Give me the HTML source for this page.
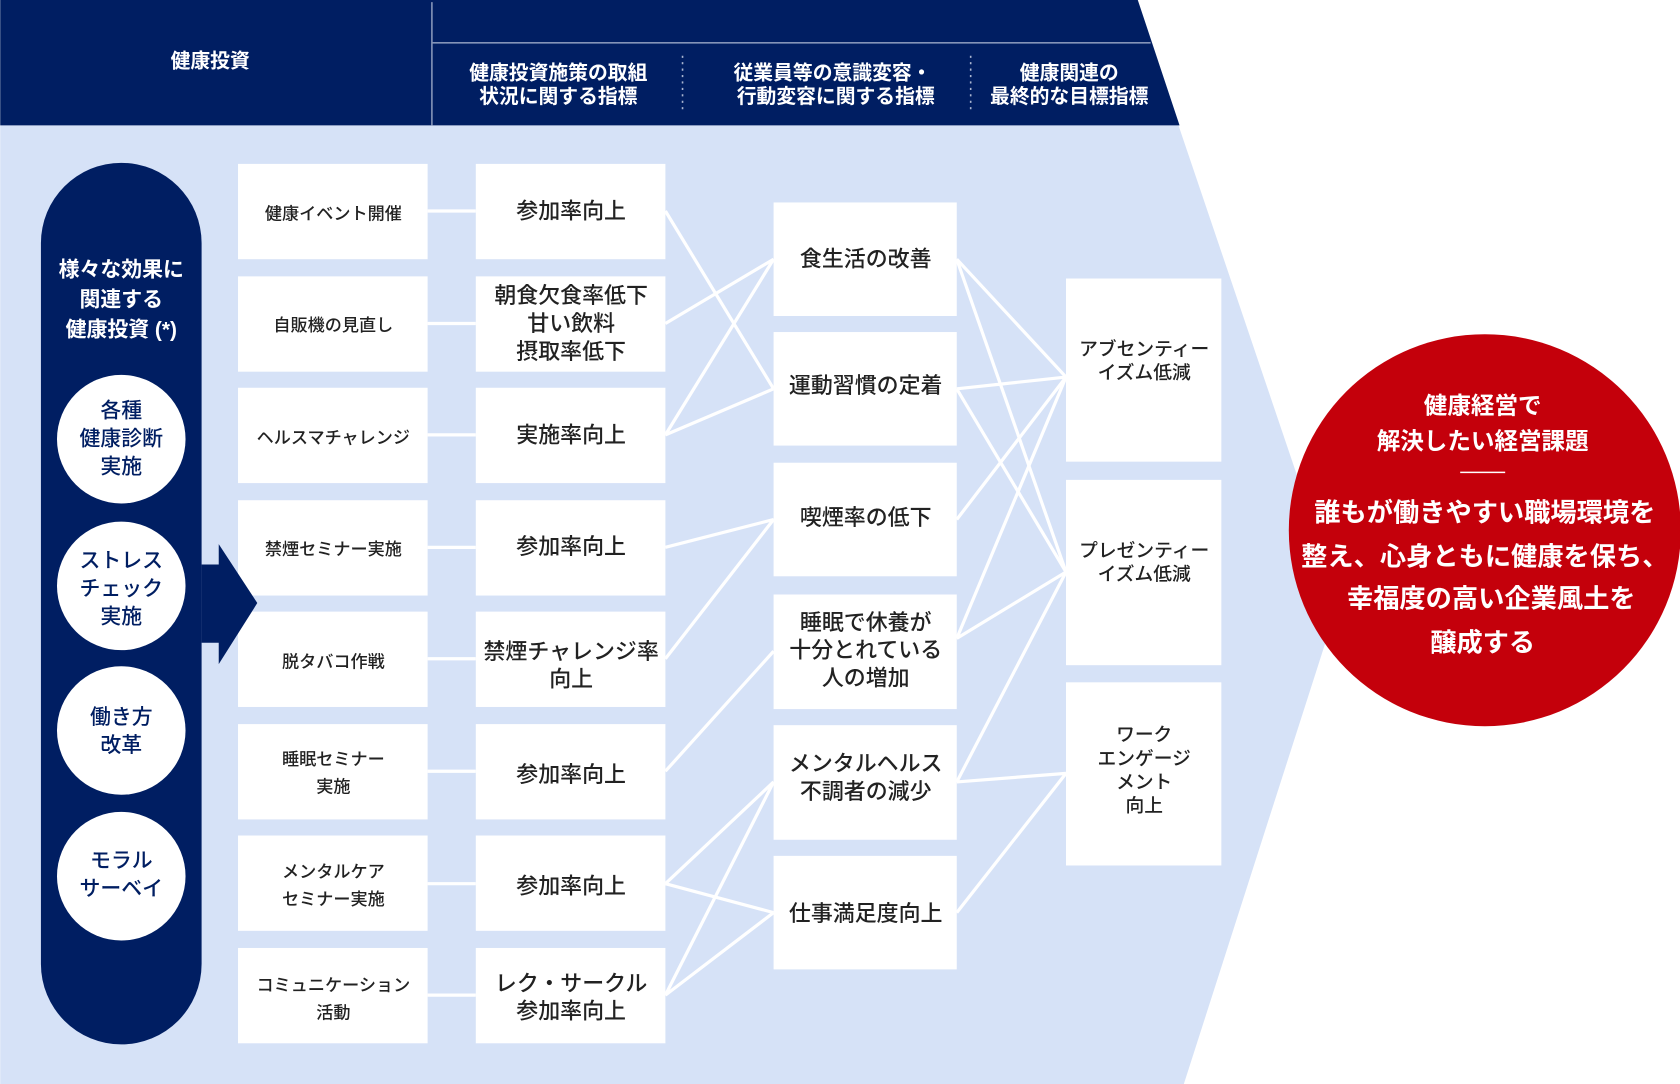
<!DOCTYPE html>
<html><head><meta charset="utf-8"><style>
html,body{margin:0;padding:0;background:#fff;}
svg{display:block}
text{font-family:"Liberation Sans","Noto Sans CJK JP",sans-serif;}
</style></head><body>
<svg width="1680" height="1084" viewBox="0 0 1568 1012" xmlns="http://www.w3.org/2000/svg">
<polygon points="0,117 1100,117 1250,560 1105,1012 0,1012" fill="#d6e2f7"/>
<polygon points="0,0 1062,0 1101,117 0,117" fill="#001e62"/>
<line x1="403" y1="2" x2="403" y2="117" stroke="#8494b8" stroke-width="1.5"/>
<line x1="403" y1="40" x2="1074" y2="40" stroke="#8494b8" stroke-width="1.5"/>
<line x1="637" y1="52" x2="637" y2="105" stroke="#aab5d0" stroke-width="1.5" stroke-dasharray="2,4"/>
<line x1="906" y1="52" x2="906" y2="105" stroke="#aab5d0" stroke-width="1.5" stroke-dasharray="2,4"/>
<g fill="#fff" font-size="18.5" font-weight="bold" text-anchor="middle">
<text x="196" y="63">健康投資</text>
<text x="521" y="74">健康投資施策の取組</text><text x="521" y="96">状況に関する指標</text>
<text x="777" y="74">従業員等の意識変容・</text><text x="780" y="96">行動変容に関する指標</text>
<text x="998" y="74">健康関連の</text><text x="998" y="96">最終的な目標指標</text>
</g>
<rect x="38" y="152" width="150" height="823" rx="75" fill="#001e62"/>
<g fill="#fff" font-size="19.5" font-weight="bold" text-anchor="middle">
<text x="113" y="258">様々な効果に</text><text x="113" y="286">関連する</text><text x="113" y="314">健康投資 (*)</text>
</g>
<g fill="#fff"><circle cx="113" cy="410" r="60"/><circle cx="113" cy="547" r="60"/><circle cx="113" cy="682" r="60"/><circle cx="113" cy="818" r="60"/></g>
<g fill="#001e62" font-size="19.5" font-weight="500" text-anchor="middle">
<text x="113" y="390">各種</text><text x="113" y="416">健康診断</text><text x="113" y="442">実施</text>
<text x="113" y="530">ストレス</text><text x="113" y="556">チェック</text><text x="113" y="582">実施</text>
<text x="113" y="676">働き方</text><text x="113" y="702">改革</text>
<text x="113" y="810">モラル</text><text x="113" y="836">サーベイ</text>
</g>
<g stroke="#fff" stroke-width="3">
<line x1="399" y1="197" x2="444" y2="197"/><line x1="399" y1="302" x2="444" y2="302"/><line x1="399" y1="406" x2="444" y2="406"/><line x1="399" y1="511" x2="444" y2="511"/><line x1="399" y1="615" x2="444" y2="615"/><line x1="399" y1="720" x2="444" y2="720"/><line x1="399" y1="825" x2="444" y2="825"/><line x1="399" y1="929" x2="444" y2="929"/>
<line x1="621" y1="197" x2="722" y2="363"/><line x1="621" y1="302" x2="722" y2="242"/><line x1="621" y1="406" x2="722" y2="242"/><line x1="621" y1="406" x2="722" y2="363"/><line x1="621" y1="511" x2="722" y2="485"/><line x1="621" y1="615" x2="722" y2="485"/><line x1="621" y1="720" x2="722" y2="608"/><line x1="621" y1="825" x2="722" y2="730"/><line x1="621" y1="825" x2="722" y2="852"/><line x1="621" y1="929" x2="722" y2="730"/><line x1="621" y1="929" x2="722" y2="852"/>
<line x1="893" y1="242" x2="995" y2="352"/><line x1="893" y1="242" x2="995" y2="534"/><line x1="893" y1="363" x2="995" y2="352"/><line x1="893" y1="363" x2="995" y2="534"/><line x1="893" y1="485" x2="995" y2="352"/><line x1="893" y1="596" x2="995" y2="352"/><line x1="893" y1="596" x2="995" y2="534"/><line x1="893" y1="730" x2="995" y2="534"/><line x1="893" y1="730" x2="995" y2="722"/><line x1="893" y1="852" x2="995" y2="722"/>
</g>
<g fill="#fff">
<rect x="222" y="153" width="177" height="89"/><rect x="222" y="258" width="177" height="89"/><rect x="222" y="362" width="177" height="89"/><rect x="222" y="467" width="177" height="89"/><rect x="222" y="571" width="177" height="89"/><rect x="222" y="676" width="177" height="89"/><rect x="222" y="780" width="177" height="89"/><rect x="222" y="885" width="177" height="89"/>
<rect x="444" y="153" width="177" height="89"/><rect x="444" y="258" width="177" height="89"/><rect x="444" y="362" width="177" height="89"/><rect x="444" y="467" width="177" height="89"/><rect x="444" y="571" width="177" height="89"/><rect x="444" y="676" width="177" height="89"/><rect x="444" y="780" width="177" height="89"/><rect x="444" y="885" width="177" height="89"/>
<rect x="722" y="189" width="171" height="106"/><rect x="722" y="310" width="171" height="106"/><rect x="722" y="432" width="171" height="106"/><rect x="722" y="555" width="171" height="107"/><rect x="722" y="677" width="171" height="107"/><rect x="722" y="799" width="171" height="106"/>
<rect x="995" y="260" width="145" height="171"/><rect x="995" y="448" width="145" height="173"/><rect x="995" y="637" width="145" height="171"/>
</g>
<polygon points="188,527 204,527 204,508 240,563 204,620 204,600 188,600" fill="#001e62"/>
<g fill="#222" font-size="16" font-weight="500" text-anchor="middle">
<text x="311" y="205">健康イベント開催</text>
<text x="311" y="309">自販機の見直し</text>
<text x="311" y="414">ヘルスマチャレンジ</text>
<text x="311" y="518">禁煙セミナー実施</text>
<text x="311" y="623">脱タバコ作戦</text>
<text x="311" y="714">睡眠セミナー</text><text x="311" y="740">実施</text>
<text x="311" y="819">メンタルケア</text><text x="311" y="845">セミナー実施</text>
<text x="311" y="925">コミュニケーション</text><text x="311" y="951">活動</text>
</g>
<g fill="#222" font-size="20.5" font-weight="500" text-anchor="middle">
<text x="533" y="204">参加率向上</text>
<text x="533" y="283">朝食欠食率低下</text><text x="533" y="309">甘い飲料</text><text x="533" y="335">摂取率低下</text>
<text x="533" y="413">実施率向上</text>
<text x="533" y="517">参加率向上</text>
<text x="533" y="615">禁煙チャレンジ率</text><text x="533" y="641">向上</text>
<text x="533" y="730">参加率向上</text>
<text x="533" y="834">参加率向上</text>
<text x="533" y="925">レク・サークル</text><text x="533" y="951">参加率向上</text>
<text x="808" y="249">食生活の改善</text>
<text x="808" y="367">運動習慣の定着</text>
<text x="808" y="490">喫煙率の低下</text>
<text x="808" y="588">睡眠で休養が</text><text x="808" y="614">十分とれている</text><text x="808" y="640">人の増加</text>
<text x="808" y="720">メンタルヘルス</text><text x="808" y="746">不調者の減少</text>
<text x="808" y="860">仕事満足度向上</text>
</g>
<g fill="#222" font-size="17.5" font-weight="500" text-anchor="middle">
<text x="1068" y="332">アブセンティー</text><text x="1068" y="354">イズム低減</text>
<text x="1068" y="520">プレゼンティー</text><text x="1068" y="542">イズム低減</text>
<text x="1068" y="692">ワーク</text><text x="1068" y="714">エンゲージ</text><text x="1068" y="736">メント</text><text x="1068" y="758">向上</text>
</g>
<circle cx="1386" cy="495" r="183" fill="#c4000b"/>
<g fill="#fff" font-weight="bold" text-anchor="middle">
<text x="1384" y="386" font-size="22">健康経営で</text><text x="1384" y="419" font-size="22">解決したい経営課題</text>
<line x1="1363" y1="441" x2="1405" y2="441" stroke="#fff" stroke-width="1.5"/>
<text x="1386" y="487" font-size="24.5">誰もが働きやすい職場環境を</text>
<text x="1386" y="528" font-size="24.5">整え、心身ともに健康を保ち、</text>
<text x="1392" y="567" font-size="24.5">幸福度の高い企業風土を</text>
<text x="1384" y="608" font-size="24.5">醸成する</text>
</g>
</svg>
</body></html>
